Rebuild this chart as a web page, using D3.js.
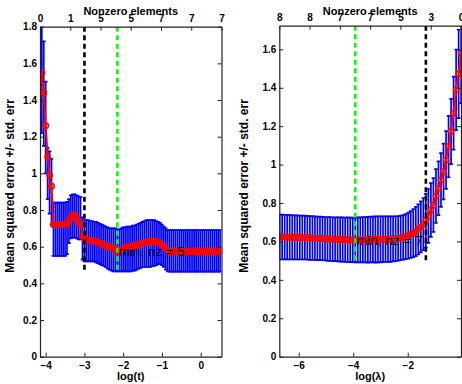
<!DOCTYPE html>
<html>
<head>
<meta charset="utf-8">
<title>Lasso cross-validation</title>
<script src="https://cdnjs.cloudflare.com/ajax/libs/d3/7.8.5/d3.min.js"></script>
<style>
  body { margin: 0; background: #fff; }
</style>
</head>
<body>
<svg id="chart" width="462" height="384"></svg>

<script type="text/javascript">

/** LEFT PANEL DATA : log(t) **/
var tStart = -4.15, tStep = 0.05;
var tMse = [1.48,1.55,1.44,1.26,1.09,0.99,0.93,0.72,0.72,0.72,
	0.72,0.72,0.72,0.72,0.725,0.74,0.76,0.775,0.77,0.755,
	0.735,0.72,0.66,0.645,0.64,0.635,0.635,0.635,0.63,0.63,
	0.625,0.62,0.615,0.61,0.605,0.60,0.60,0.595,0.59,0.585,
	0.572,0.578,0.585,0.59,0.595,0.60,0.60,0.60,0.605,0.605,
	0.61,0.61,0.615,0.62,0.62,0.625,0.625,0.63,0.63,0.63,
	0.63,0.625,0.62,0.61,0.60,0.59,0.58,0.575,0.575,0.575,
	0.575,0.575,0.575,0.575,0.575,0.575,0.575,0.575,0.575,0.575,
	0.575,0.575,0.575,0.575,0.575,0.575,0.575,0.575,0.575,0.575,
	0.575,0.575,0.575,0.575];
var tLo = [1.25,1.22,1.15,1.00,0.86,0.78,0.72,0.55,0.55,0.55,
	0.55,0.55,0.55,0.55,0.56,0.62,0.645,0.65,0.65,0.645,
	0.64,0.64,0.53,0.52,0.52,0.52,0.52,0.52,0.52,0.515,
	0.51,0.505,0.50,0.495,0.49,0.48,0.475,0.47,0.465,0.465,
	0.465,0.465,0.465,0.465,0.465,0.465,0.465,0.465,0.47,0.47,
	0.475,0.48,0.485,0.49,0.49,0.49,0.49,0.49,0.495,0.495,
	0.50,0.505,0.505,0.50,0.49,0.475,0.465,0.464,0.464,0.464,
	0.464,0.464,0.464,0.464,0.464,0.464,0.464,0.464,0.464,0.464,
	0.464,0.464,0.464,0.464,0.464,0.464,0.464,0.464,0.464,0.464,
	0.464,0.464,0.464,0.464];
var tHi = [1.75,1.95,1.72,1.50,1.14,1.12,1.08,0.84,0.84,0.84,
	0.84,0.84,0.84,0.84,0.845,0.86,0.88,0.885,0.885,0.88,
	0.875,0.87,0.76,0.745,0.745,0.745,0.74,0.74,0.735,0.735,
	0.73,0.725,0.72,0.715,0.71,0.705,0.70,0.70,0.70,0.70,
	0.695,0.695,0.70,0.705,0.705,0.71,0.71,0.71,0.715,0.715,
	0.72,0.725,0.73,0.735,0.74,0.745,0.745,0.745,0.745,0.745,
	0.74,0.735,0.73,0.72,0.71,0.70,0.69,0.69,0.69,0.69,
	0.69,0.69,0.69,0.69,0.69,0.69,0.69,0.69,0.69,0.69,
	0.69,0.69,0.69,0.69,0.69,0.69,0.69,0.69,0.69,0.69,
	0.69,0.69,0.69,0.69];
var tNonzero = ["0","1","5","5","7","7","7"];
var tTicks = [-4,-3,-2,-1,0];
var tYTicks = [0,0.2,0.4,0.6,0.8,1,1.2,1.4,1.6,1.8];
var tMinIdx = 40, tSeIdx = 23;

/** RIGHT PANEL DATA : log(lambda) **/
var lamStart = -6.70, lamStep = 0.0925;
var lamMse = [0.623,0.623,0.623,0.622,0.622,0.622,0.621,0.621,0.620,0.620,
	0.620,0.619,0.618,0.618,0.617,0.616,0.616,0.615,0.614,0.613,
	0.613,0.612,0.611,0.611,0.610,0.610,0.609,0.609,0.608,0.608,
	0.607,0.608,0.608,0.609,0.609,0.609,0.610,0.610,0.610,0.611,
	0.611,0.611,0.612,0.612,0.612,0.613,0.614,0.616,0.618,0.621,
	0.625,0.630,0.636,0.643,0.652,0.663,0.676,0.690,0.708,0.733,
	0.764,0.790,0.836,0.877,0.920,0.964,1.024,1.094,1.172,1.268,
	1.389,1.472,1.58];
var lamSe = [0.117,0.117,0.116,0.116,0.116,0.115,0.115,0.115,0.114,0.114,
	0.114,0.114,0.114,0.114,0.113,0.113,0.113,0.113,0.113,0.114,
	0.114,0.114,0.114,0.115,0.115,0.115,0.115,0.116,0.116,0.116,
	0.116,0.117,0.117,0.118,0.118,0.119,0.119,0.119,0.12,0.12,
	0.12,0.119,0.119,0.118,0.118,0.117,0.117,0.116,0.116,0.116,
	0.117,0.12,0.122,0.125,0.128,0.13,0.133,0.136,0.14,0.14,
	0.14,0.14,0.14,0.14,0.14,0.145,0.15,0.16,0.17,0.19,
	0.21,0.23,0.26];
var lamNonzero = ["8","8","7","7","5","3","0"];
var lamTicks = [-6,-4,-2];
var lamYTicks = [0,0.2,0.4,0.6,0.8,1,1.2,1.4,1.6];
var lamMinIdx = 30, lamSeIdx = 58;

var FONT = '"Liberation Sans", Arial, Helvetica, sans-serif';
var svg = d3.select("#chart");

function drawPanel(p) {
	var x = d3.scaleLinear().domain(p.xDomain).range([p.left, p.right]);
	var y = d3.scaleLinear().domain(p.yDomain).range([p.bottom, p.top]);
	var top = d3.scaleLinear().domain([0, p.nonzero.length - 1]).range([p.left, p.right]);
	var xs = p.mean.map(function(d, i){ return p.start + i * p.step; });

	var g = svg.append("g");
	var clipId = "clip" + p.id;
	g.append("clipPath").attr("id", clipId).append("rect")
		.attr("x", p.left).attr("y", p.top)
		.attr("width", p.right - p.left).attr("height", p.bottom - p.top);

	var plot = g.append("g").attr("clip-path", "url(#" + clipId + ")");

	// error bars
	var cap = p.cap;
	plot.selectAll(".err").data(p.mean).enter().append("path")
		.attr("class", "err")
		.attr("d", function(d, i){
			var px = x(xs[i]), yl = y(p.lo[i]), yh = y(p.hi[i]);
			return "M" + (px - cap) + "," + yh + "H" + (px + cap) +
				"M" + px + "," + yh + "V" + yl +
				"M" + (px - cap) + "," + yl + "H" + (px + cap);
		})
		.attr("fill", "none")
		.attr("stroke", "#0000ff")
		.attr("stroke-width", 1.7);

	// mean curve
	var line = d3.line().x(function(d, i){ return x(xs[i]); }).y(function(d){ return y(d); });
	plot.append("path").datum(p.mean)
		.attr("d", line)
		.attr("fill", "none")
		.attr("stroke", "#ff0000")
		.attr("stroke-width", 2);
	plot.selectAll(".dot").data(p.mean).enter().append("circle")
		.attr("class", "dot")
		.attr("cx", function(d, i){ return x(xs[i]); })
		.attr("cy", function(d){ return y(d); })
		.attr("r", 2.7)
		.attr("fill", "none")
		.attr("stroke", "#ff0000")
		.attr("stroke-width", 1.5);

	// dashed lines: minimum (green) and 1-SE (black)
	var yEnd = y(p.lo[p.minIdx]);
	[[p.seIdx, "#000000"], [p.minIdx, "#00ff00"]].forEach(function(d){
		plot.append("line")
			.attr("x1", x(xs[d[0]])).attr("x2", x(xs[d[0]]))
			.attr("y1", p.top).attr("y2", yEnd)
			.attr("stroke", d[1])
			.attr("stroke-width", 2.6)
			.attr("stroke-dasharray", "5,3.5");
	});

	g.append("text")
		.attr("x", x(xs[p.minIdx]) + 1)
		.attr("y", y(p.mean[p.minIdx]))
		.attr("dominant-baseline", "central")
		.attr("font-family", FONT)
		.attr("font-size", 13.5)
		.attr("fill", "#000")
		.text("min, nz = " + p.minNz);

	// axes (ticks point inwards)
	function style(a) {
		a.attr("font-family", FONT).attr("font-size", 10).attr("font-weight", "bold");
		a.select(".domain").attr("stroke", "#222").attr("stroke-width", 1.2);
		a.selectAll(".tick line").attr("stroke", "#222");
		a.selectAll(".tick text").attr("fill", "#000");
	}
	g.append("g").attr("transform", "translate(0," + p.bottom + ")")
		.call(d3.axisBottom(x).tickValues(p.xTicks).tickFormat(d3.format("d"))
			.tickSizeInner(-4).tickSizeOuter(0).tickPadding(5))
		.call(style);
	g.append("g").attr("transform", "translate(" + p.left + ",0)")
		.call(d3.axisLeft(y).tickValues(p.yTicks).tickFormat(function(d){ return String(d); })
			.tickSizeInner(-4).tickSizeOuter(0).tickPadding(3))
		.call(style);
	g.append("g").attr("transform", "translate(" + p.right + ",0)")
		.call(d3.axisRight(y).tickValues(p.yTicks).tickFormat("")
			.tickSizeInner(-4).tickSizeOuter(0))
		.call(style);
	g.append("g").attr("transform", "translate(0," + p.top + ")")
		.call(d3.axisTop(top).tickValues(d3.range(p.nonzero.length))
			.tickFormat(function(d){ return p.nonzero[d]; })
			.tickSizeInner(-4).tickSizeOuter(0).tickPadding(5))
		.call(style);

	var cx = (p.left + p.right) / 2;
	g.append("text")
		.attr("x", cx).attr("y", 15)
		.attr("text-anchor", "middle")
		.attr("font-family", FONT).attr("font-size", 11).attr("font-weight", "bold")
		.text("Nonzero elements");
	g.append("text")
		.attr("x", cx).attr("y", 380)
		.attr("text-anchor", "middle")
		.attr("font-family", FONT).attr("font-size", 11).attr("font-weight", "bold")
		.text(p.xLabel);
	g.append("text")
		.attr("transform", "translate(" + p.yLabelX + ",186) rotate(-90)")
		.attr("text-anchor", "middle")
		.attr("dominant-baseline", "central")
		.attr("font-family", FONT).attr("font-size", 12).attr("font-weight", "bold")
		.text("Mean squared error +/- std. err");
}

drawPanel({
	id: "L", left: 40, right: 221.5, top: 26.7, bottom: 356.7,
	xDomain: [-4.147, 0.537], yDomain: [0, 1.8],
	start: tStart, step: tStep, mean: tMse, lo: tLo, hi: tHi,
	nonzero: tNonzero, xTicks: tTicks, yTicks: tYTicks,
	minIdx: tMinIdx, seIdx: tSeIdx, minNz: 5, cap: 1.8,
	xLabel: "log(t)", yLabelX: 10
});

drawPanel({
	id: "R", left: 279.3, right: 461, top: 25.7, bottom: 356.7,
	xDomain: [-6.712, -0.046], yDomain: [0, 1.723],
	start: lamStart, step: lamStep, mean: lamMse,
	lo: lamMse.map(function(d, i){ return d - lamSe[i]; }),
	hi: lamMse.map(function(d, i){ return d + lamSe[i]; }),
	nonzero: lamNonzero, xTicks: lamTicks, yTicks: lamYTicks,
	minIdx: lamMinIdx, seIdx: lamSeIdx, minNz: 7, cap: 1.8,
	xLabel: "log(\u03bb)", yLabelX: 244
});

</script>
</body>
</html>
